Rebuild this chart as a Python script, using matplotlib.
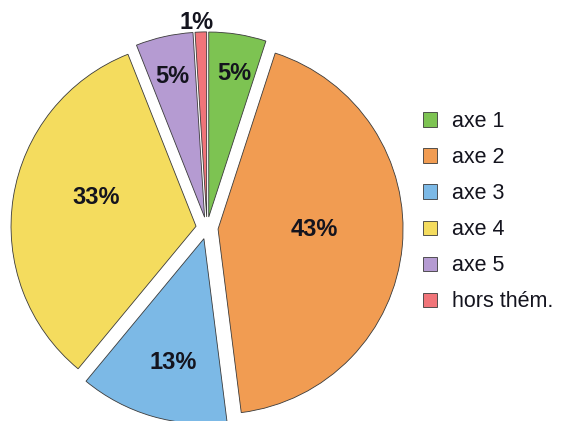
import numpy as np
import matplotlib.pyplot as plt

# ----------------------
# Data
# ----------------------
categories = ['axe 1', 'axe 2', 'axe 3', 'axe 4', 'axe 5', 'hors thém.']
shares = [5, 43, 13, 33, 5, 1]
pct_labels = ['5%', '43%', '13%', '33%', '5%', '1%']
colors = ['#7dc352', '#f19c52', '#7cb9e6', '#f4dc5e', '#b59bd2', '#f07479']

# label placement: distance from the (exploded) wedge centre in radius
# units, and a small angular nudge in degrees (ccw) from the wedge middle
label_dist = [0.79, 0.52, 0.69, 0.56, 0.78, 1.05]
label_nudge = [-1.0, 5.4, 2.3, -6.9, 0.5, 1.1]

plt.rcParams['font.family'] = ['Liberation Sans', 'DejaVu Sans']

fig = plt.figure(figsize=(5.7, 4.21), dpi=100)
ax = fig.add_axes([0, 0, 1, 1])

cx, cy, r = 207, 193, 185
# explode is in data units for pie(), so scale by the radius
explode = [0.06 * r] * len(shares)

wedges, _ = ax.pie(shares, colors=colors, startangle=90, counterclock=False,
                   explode=explode, center=(cx, cy), radius=r,
                   wedgeprops=dict(edgecolor='#3a3a3a', linewidth=0.6))

# pie() resets the limits, so set them afterwards (1 unit = 1 pixel)
ax.set_xlim(0, 570)
ax.set_ylim(0, 421)
ax.set_aspect('equal')
ax.axis('off')

# ----------------------
# Percent labels
# ----------------------
for w, lab, d, nudge in zip(wedges, pct_labels, label_dist, label_nudge):
    ang = np.deg2rad((w.theta1 + w.theta2) / 2 + nudge)
    x0, y0 = w.center
    ax.text(x0 + d * r * np.cos(ang), y0 + d * r * np.sin(ang), lab,
            ha='center', va='center', fontsize=17, fontweight='bold',
            color='#14141e')

# ----------------------
# Legend
# ----------------------
leg = fig.legend(wedges, categories, loc='center left',
                 bbox_to_anchor=(0.742, 0.497), frameon=False,
                 fontsize=15.5, handlelength=0.65, handleheight=0.65,
                 handletextpad=0.7, labelspacing=0.7,
                 borderpad=0, borderaxespad=0)
for t in leg.get_texts():
    t.set_color('#14141e')

plt.savefig('out.png', dpi=100)
